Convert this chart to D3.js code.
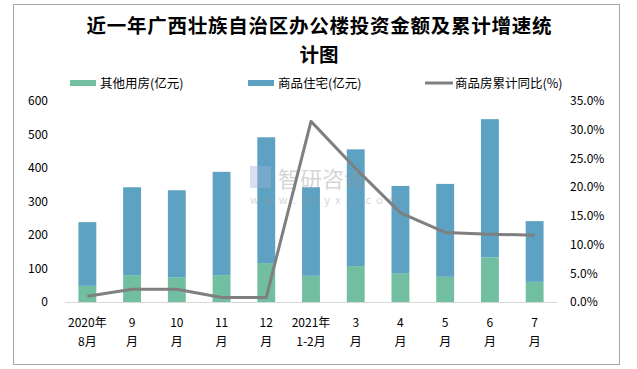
<!DOCTYPE html>
<html><head><meta charset="utf-8">
<script src="https://cdn.jsdelivr.net/npm/d3@7"></script>
<style>
body{margin:0;background:#fff;}
text{font-family:"Noto Sans CJK SC","Liberation Sans",sans-serif;}
</style></head>
<body><svg id="c" width="637" height="369"></svg>
<script>
const categories = [["2020年","8月"],["9","月"],["10","月"],["11","月"],["12","月"],["2021年","1-2月"],["3","月"],["4","月"],["5","月"],["6","月"],["7","月"]];
const otherValues = [48, 80, 74, 80, 116, 78, 107, 86, 75, 133, 60];
const residentialValues = [190, 262, 259, 308, 375, 264, 348, 260, 277, 412, 181];
const growthValues = [1.0, 2.2, 2.2, 0.8, 0.8, 31.4, 23.2, 15.5, 12.1, 11.8, 11.6];
const leftTicks = [0,100,200,300,400,500,600];
const rightTicks = [0,5,10,15,20,25,30,35];
const seriesNames = ["其他用房(亿元)","商品住宅(亿元)","商品房累计同比(%)"];

const svg = d3.select("#c");
const green = "#72BEA1", blue = "#5DA2C2", gray = "#7F7F7F";

svg.append("rect").attr("x",13.5).attr("y",4.5).attr("width",606).attr("height",360)
  .attr("fill","#fff").attr("stroke","#a6a6a6").attr("stroke-width",1);

// title
const title = svg.append("text").attr("text-anchor","middle").attr("font-weight","bold")
  .attr("font-size",19.5).attr("fill","#000");
title.append("tspan").attr("x",319).attr("y",33).attr("textLength",465).text("近一年广西壮族自治区办公楼投资金额及累计增速统");
title.append("tspan").attr("x",319).attr("y",62).text("计图");

const x = d3.scaleBand().domain(d3.range(categories.length)).range([65,557]).paddingInner(0.6).paddingOuter(0.3);
const yL = d3.scaleLinear().domain([0,600]).range([302,100.7]);
const yR = d3.scaleLinear().domain([0,35]).range([302,100.7]);

// stacked bars
const stack = d3.stack().keys(["other","res"])(otherValues.map((v,i)=>({other:v,res:residentialValues[i]})));
const colors = [green, blue];
stack.forEach((layer,k)=>{
  svg.append("g").selectAll("rect").data(layer).join("rect")
    .attr("x",(d,i)=>x(i)).attr("width",x.bandwidth())
    .attr("y",d=>yL(d[1])).attr("height",d=>yL(d[0])-yL(d[1]))
    .attr("fill",colors[k]);
});

// bottom axis line
svg.append("line").attr("x1",65).attr("x2",557).attr("y1",302.5).attr("y2",302.5).attr("stroke","#d9d9d9");

// watermark
const wm = svg.append("g").attr("opacity",0.4);
wm.append("rect").attr("x",250).attr("y",166).attr("width",21).attr("height",22).attr("fill","#9fb0d6");
wm.append("text").attr("x",278).attr("y",187).attr("font-size",22).attr("fill","#999").text("智研咨询");
wm.append("text").attr("x",250).attr("y",204).attr("font-size",11).attr("fill","#999").attr("letter-spacing",5.5).text("www.chyxx.com");

// left axis
const la = svg.append("g").attr("transform","translate(48,0)")
  .call(d3.axisLeft(yL).tickValues(leftTicks).tickSize(0).tickPadding(0));
la.select(".domain").remove();
la.selectAll("text").attr("font-size",12).attr("fill","#000").attr("font-family","Liberation Sans, sans-serif");

// right axis
const ra = svg.append("g").attr("transform","translate(570,0)")
  .call(d3.axisRight(yR).tickValues(rightTicks).tickSize(0).tickPadding(0).tickFormat(d=>d.toFixed(1)+"%"));
ra.select(".domain").remove();
ra.selectAll("text").attr("font-size",12).attr("fill","#000").attr("font-family","Liberation Sans, sans-serif");

// x labels
const xl = svg.append("g");
categories.forEach((c,i)=>{
  const cx = x(i)+x.bandwidth()/2;
  const t = xl.append("text").attr("text-anchor","middle").attr("font-size",12).attr("fill","#000");
  t.append("tspan").attr("x",cx).attr("y",327).text(c[0]);
  t.append("tspan").attr("x",cx).attr("y",346).text(c[1]);
});

// line
const line = d3.line().x((d,i)=>x(i)+x.bandwidth()/2).y(d=>yR(d));
svg.append("path").datum(growthValues).attr("d",line).attr("fill","none")
  .attr("stroke",gray).attr("stroke-width",3).attr("stroke-linejoin","round");

// legend
const lg = svg.append("g").attr("font-size",12.5);
lg.append("rect").attr("x",70).attr("y",80).attr("width",26).attr("height",6).attr("fill",green);
lg.append("text").attr("x",100).attr("y",88).text(seriesNames[0]);
lg.append("rect").attr("x",248).attr("y",80).attr("width",26).attr("height",6).attr("fill",blue);
lg.append("text").attr("x",278).attr("y",88).text(seriesNames[1]);
lg.append("line").attr("x1",425).attr("x2",453).attr("y1",83).attr("y2",83).attr("stroke",gray).attr("stroke-width",3);
lg.append("text").attr("x",455).attr("y",88).text(seriesNames[2]);
</script></body></html>
